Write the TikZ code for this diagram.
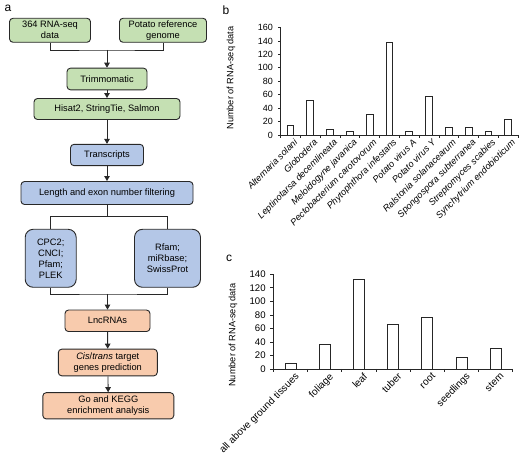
\documentclass[tikz,border=0pt]{standalone}
\usepackage{fontspec}
\setmainfont{Liberation Sans}
\usetikzlibrary{arrows.meta}
\definecolor{gfill}{RGB}{197,224,179}
\definecolor{bfill}{RGB}{180,199,231}
\definecolor{ofill}{RGB}{248,203,173}
\definecolor{edge}{RGB}{40,40,40}
\begin{document}
\begin{tikzpicture}[x=1pt,y=-1pt,
  box/.style={draw=edge, line width=0.9pt, rounded corners=3.5pt, align=center, inner sep=0pt, font=\fontsize{9.3}{11}\selectfont},
  gbox/.style={box, fill=gfill},
  bbox/.style={box, fill=bfill},
  obox/.style={box, fill=ofill},
  link/.style={draw=edge, line width=0.9pt},
  arr/.style={link, -{Triangle[length=5pt,width=5.5pt]}},
  axis/.style={draw=black!85, line width=0.8pt},
  bar/.style={draw=black!85, line width=0.8pt, fill=white},
  tick/.style={font=\fontsize{9}{10}\selectfont, inner sep=0pt, anchor=east},
  cat/.style={font=\fontsize{9.2}{10}\selectfont, inner sep=0pt, rotate=45, anchor=north east},
  ttl/.style={font=\fontsize{9.2}{10}\selectfont, inner sep=0pt, rotate=90},
  panel/.style={font=\fontsize{12}{12}\selectfont, inner sep=0pt}
]
\useasboundingbox (0,0) rectangle (520,454);

% panel letters
\node[panel] (pa) at (8,8) {a};
\node[panel] (pb) at (226,10) {b};
\node[panel] (pc) at (229,258) {c};

% ---------------- flowchart ----------------
\node[gbox, minimum width=81pt, minimum height=24pt] (d364) at (50,30.3) {364 RNA-seq\\data};
\node[gbox, minimum width=87pt, minimum height=24pt] (ref) at (163,30.3) {Potato reference\\genome};
\node[gbox, minimum width=80pt, minimum height=21.7pt] (trim) at (107,79) {Trimmomatic};
\node[gbox, minimum width=146pt, minimum height=21pt] (hisat) at (107,109) {Hisat2, StringTie, Salmon};
\node[bbox, minimum width=73pt, minimum height=21.3pt] (trans) at (107,155) {Transcripts};
\node[bbox, minimum width=172pt, minimum height=23pt] (len) at (107,193) {Length and exon number filtering};
\node[bbox, rounded corners=8pt, minimum width=51pt, minimum height=58pt] (cpc) at (50.7,258.3) {CPC2;\\CNCI;\\Pfam;\\PLEK};
\node[bbox, rounded corners=8pt, minimum width=66pt, minimum height=58pt] (rfam) at (167.5,258.3) {Rfam;\\miRbase;\\SwissProt};
\node[obox, minimum width=85pt, minimum height=21.5pt] (lnc) at (107.5,320.8) {LncRNAs};
\node[obox, minimum width=99pt, minimum height=26.7pt] (cis) at (107.8,362.5) {\textit{Cis}/\textit{trans} target\\genes prediction};
\node[obox, minimum width=131pt, minimum height=26.3pt] (go) at (108.3,405.8) {Go and KEGG\\enrichment analysis};

\coordinate (j1) at (107,50);
\coordinate (j2) at (107,216.7);
\coordinate (j3) at (107.5,294);

\draw[link] (d364.south) |- (j1) -| (ref.south);
\draw[arr] (j1) -- (trim.north);
\draw[arr] (trim) -- (hisat);
\draw[arr] (hisat) -- (trans);
\draw[arr] (trans) -- (len);
\draw[link] (len.south) -- (j2);
\draw[link] (cpc.north) |- (j2) -| (rfam.north);
\draw[link] (cpc.south) |- (j3) -| (rfam.south);
\draw[arr] (j3) -- (lnc.north);
\draw[arr] (lnc) -- (cis);
\draw[arr] (cis) -- (go);

% ---------------- chart b ----------------
\def\bx{280.5}\def\by{135}\def\bw{19.8}\def\bu{0.671}
\node[ttl] (tb) at (231,78) {Number of RNA-seq data};
\draw[axis] (\bx,{\by-160*\bu}) -- (\bx,\by) -- (518,\by);
\foreach \v in {0,20,...,160} {
  \draw[axis] (\bx,{\by-\v*\bu}) -- ++(-3,0);
  \node[tick] (bt\v) at ({\bx-7.5},{\by-\v*\bu}) {\v};
}
\foreach \i in {0,...,12} \draw[axis] ({\bx+\i*\bw},\by) -- ++(0,3);
\foreach \v [count=\i] in {15,52,8,6,30,138,5,57,12,12,6,23}
  \draw[bar] ({\bx+(\i-0.5)*\bw-3.4},\by) rectangle ++(6.8,{-\v*\bu});
\foreach \t [count=\i] in {Alternaria solani,Globodera,Leptinotarsa decemlineata,Meloidogyne javanica,Pectobacterium carotovorum,Phytophthora infestans,Potato virus A,Potato virus Y,Ralstonia solanacearum,Spongospora subterranea,Streptomyces scabies,Synchytrium endobioticum}
  \node[cat] (bl\i) at ({\bx+(\i-0.5)*\bw+3},{\by+3}) {\textit{\t}};

% ---------------- chart c ----------------
\def\cx{273.3}\def\cy{369}\def\cw{34.2}\def\cu{0.676}
\node[ttl] (tc) at (233,335) {Number of RNA-seq data};
\draw[axis] (\cx,{\cy-140*\cu}) -- (\cx,\cy) -- ({\cx+7*\cw},\cy);
\foreach \v in {0,20,...,140} {
  \draw[axis] (\cx,{\cy-\v*\cu}) -- ++(-3,0);
  \node[tick, font=\fontsize{9.6}{10}\selectfont] (ct\v) at ({\cx-7.5},{\cy-\v*\cu}) {\v};
}
\foreach \i in {0,...,7} \draw[axis] ({\cx+\i*\cw},\cy) -- ++(0,3);
\foreach \v [count=\i] in {8,37,133,66,77,17,31}
  \draw[bar] ({\cx+(\i-0.5)*\cw-5.5},\cy) rectangle ++(11,{-\v*\cu});
\foreach \t [count=\i] in {all above ground tissues,foliage,leaf,tuber,root,seedlings,stem}
  \node[cat, font=\fontsize{10}{11}\selectfont] (cl\i) at ({\cx+(\i-0.5)*\cw+4},{\cy+3}) {\t};
\end{tikzpicture}
\end{document}
